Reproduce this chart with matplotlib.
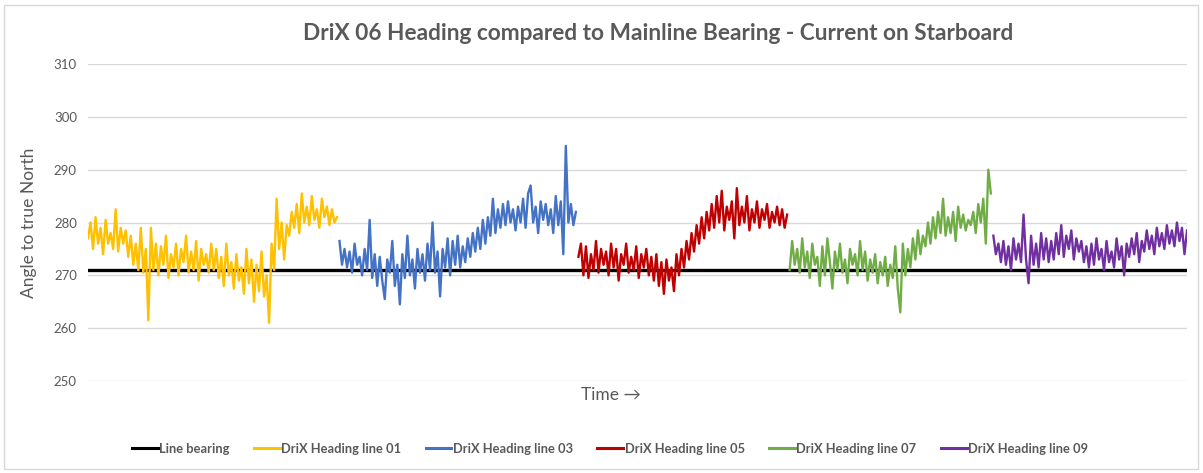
import numpy as np
import matplotlib
matplotlib.use("Agg")
import matplotlib.pyplot as plt
from matplotlib.patches import Rectangle

plt.rcParams['font.family'] = ['Lato', 'DejaVu Sans']

TITLE = "DriX 06 Heading compared to Mainline Bearing - Current on Starboard"
TEXT_GREY = "#595959"

line_bearing = 271.0

line01 = [277, 280, 275, 281, 276, 279, 274, 280.5, 276, 278, 275, 282.5, 274.5, 279, 276, 278.5,
          273.5, 277.5, 272, 276, 271, 279, 270.5, 275, 261.5,
          279, 271, 276, 270, 275.5, 272, 277.5, 269.5, 274, 271.5, 276, 270, 275, 272.5, 277.5,
          270.5, 274.5, 271, 276.5, 269, 275, 272, 274, 270.5, 276, 271,
          275, 269.5, 273.5, 268, 276, 270, 272.5, 267.5, 274, 269, 271.5, 266.5, 275, 268.5,
          273, 265, 272, 267, 274.5, 266, 270, 261,
          276, 271, 284.5, 275, 280, 273, 279.5,
          277.5, 282, 279, 283.5, 278, 285.5, 280, 283, 279.5, 285, 280.5, 282.5, 279, 284.5,
          281, 283, 279.5, 282.5, 280, 281]

line03 = [276.5, 272, 275, 271.5, 274.5, 270.5, 276, 272, 273.5, 270, 275, 271, 280.5, 269.5, 274, 268,
          273.5, 269, 265.5, 273, 270.5, 276.5, 268, 272, 264.5, 274, 269.5, 277.5, 270, 273,
          267.5, 275, 270.5,
          274, 269, 276, 271, 280, 270.5, 274.5, 266, 275, 271.5, 277, 270, 276.5, 272, 277.5, 271.5,
          275.5, 272.5, 277, 273.5, 278, 274.5, 279, 275, 280.5, 276, 281, 277.5, 284.5, 278,
          282.5, 279, 283.5, 279.5, 284, 280, 282.5, 278.5, 283, 280, 284.5, 279, 285.5, 287,
          280, 283, 278, 284, 280.5, 283.5, 279.5, 282.5, 278, 285, 279.5, 284, 274, 294.5,
          280, 283.5, 279.5, 282]

line05 = [273.5, 276, 270, 275.5, 269.5, 274, 271, 276.5, 270.5, 275, 272, 274.5, 270, 276, 271.5,
          275, 269, 274, 272, 276, 270.5, 273.5, 271, 275.5, 269.5, 274, 271.5, 275, 270, 273.5,
          269, 274, 268, 272.5, 266.5, 273, 269, 271.5, 267, 274, 270,
          275, 271.5, 276.5, 273, 278, 274.5, 279.5, 276, 281, 277, 282, 278.5,
          283.5, 279, 285, 280, 286, 278.5, 283, 280.5, 284, 277, 286.5, 279.5, 283, 280, 285,
          278.5, 282.5, 280, 284, 279, 282.5, 280.5, 283.5, 279, 282, 280, 283, 279.5, 282.5,
          279, 281.5]

line07 = [271, 276.5, 272, 275, 270.5, 277, 271.5, 274.5, 269.5, 276, 272, 273.5, 268, 275.5, 270,
          277, 272.5, 267.5, 274.5, 271, 276, 270.5, 273, 268.5, 275, 272, 274, 270, 276.5,
          271, 274.5, 269, 273, 270.5, 274, 268.5, 272.5, 270, 273.5, 268, 272, 269.5, 275.5,
          267.5, 263, 276,
          270, 275, 271.5, 277, 273, 278.5, 274, 277.5, 275.5, 280, 276, 281, 277, 282, 278,
          284.5, 277.5,
          281, 278, 282, 276.5, 283, 279, 281.5, 278.5, 280.5, 279.5, 282, 278, 283.5, 280,
          284.5, 276, 290, 285.5]

line09 = [277.5, 274, 276, 272.5,
          276.5, 272, 275.5, 271, 277, 273, 276, 272.5, 281.5, 273, 268.5, 277.5, 272, 276, 271.5,
          278, 273, 277, 272.5, 276.5, 273,
          278, 274, 279.5, 273.5, 277.5, 275, 278.5, 273, 277, 274.5, 276.5, 272.5,
          275.5, 271.5, 276, 272, 277, 273, 275, 271, 276.5, 272.5, 274.5, 271.5, 277, 273,
          275.5, 270, 276,
          273.5, 277, 274, 278, 272.5, 276.5, 274.5, 278.5, 275, 277.5, 274, 279, 275.5, 278,
          275, 279.5, 276, 278.5, 275.5, 280, 276.5, 279, 274, 278.5]

series = [
    ("DriX Heading line 01", line01, "#FFC000"),
    ("DriX Heading line 03", line03, "#4472C4"),
    ("DriX Heading line 05", line05, "#C00000"),
    ("DriX Heading line 07", line07, "#70AD47"),
    ("DriX Heading line 09", line09, "#7030A0"),
]

fig = plt.figure(figsize=(12.03, 4.73), dpi=100)
fig.patches.append(Rectangle((4 / 1203, 4 / 473), 1194 / 1203, 464 / 473,
                             transform=fig.transFigure, fill=False,
                             edgecolor="#d9d9d9", lw=1))
ax = fig.add_axes([88 / 1203, 1 - 381 / 473, (1187 - 88) / 1203, (381 - 64) / 473])

total = sum(len(s[1]) for s in series)
ax.plot([0, total - 1], [line_bearing, line_bearing], color="black", lw=2.4,
        label="Line bearing", zorder=2)

start = 0
for name, values, color in series:
    x = np.arange(start, start + len(values))
    ax.plot(x, values, color=color, lw=1.7, label=name, zorder=3)
    start += len(values)

ax.set_xlim(0, total - 1)
ax.set_ylim(250, 310)
ax.set_yticks(range(250, 311, 10))
ax.grid(axis="y", color="#d9d9d9", lw=1, zorder=0)
ax.set_axisbelow(True)
ax.set_xticks([])
for sp in ax.spines.values():
    sp.set_visible(False)
ax.tick_params(axis="y", length=0, pad=8, labelsize=9.5, labelcolor=TEXT_GREY)

ax.set_ylabel("Angle to true North", fontsize=12.5, color=TEXT_GREY, labelpad=12)
fig.text(611 / 1203, 1 - 395 / 473, "Time \u2192", ha="center", va="center",
         fontsize=12.5, color=TEXT_GREY)

fig.text(658 / 1203, 1 - 33 / 473, TITLE, ha="center", va="center",
         fontsize=16.3, fontweight="bold", color=TEXT_GREY)

leg = fig.legend(loc="center", bbox_to_anchor=(610 / 1203, 1 - 449 / 473), ncol=6,
                 frameon=False, handlelength=2.0, handletextpad=0.1, columnspacing=1.9,
                 prop={"size": 9.3, "weight": "bold"})
for t in leg.get_texts():
    t.set_color(TEXT_GREY)
for h in leg.get_lines():
    h.set_linewidth(2.2)

fig.savefig("out.png", dpi=100)
